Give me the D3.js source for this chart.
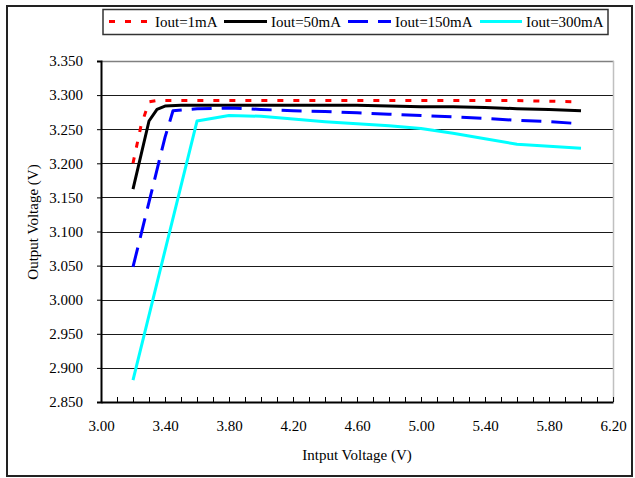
<!DOCTYPE html>
<html><head><meta charset="utf-8">
<script src="https://cdn.jsdelivr.net/npm/d3@7"></script>
<style>
html,body{margin:0;padding:0;background:#fff;}
text{font-family:"Liberation Serif","Times New Roman",serif;fill:#000;}
</style></head>
<body><svg id="c" width="635" height="478"></svg>
<script>
const xTicks = [3.00,3.40,3.80,4.20,4.60,5.00,5.40,5.80,6.20];
const yTicks = [2.850,2.900,2.950,3.000,3.050,3.100,3.150,3.200,3.250,3.300,3.350];
const seriesNames = ["Iout=1mA","Iout=50mA","Iout=150mA","Iout=300mA"];
const x1mA   = [3.2,3.25,3.3,3.35,3.4,3.5,3.6,3.8,4.0,4.2,4.4,4.6,4.8,5.0,5.2,5.4,5.6,5.8,6.0];
const v1mA   = [3.200,3.255,3.290,3.292,3.292,3.292,3.292,3.292,3.292,3.292,3.292,3.292,3.292,3.292,3.292,3.292,3.292,3.291,3.290];
const x50mA  = [3.2,3.3,3.35,3.4,3.5,3.6,3.8,4.0,4.2,4.4,4.6,4.8,5.0,5.2,5.4,5.6,5.8,6.0];
const v50mA  = [3.162,3.262,3.279,3.284,3.285,3.285,3.285,3.285,3.285,3.285,3.285,3.284,3.283,3.283,3.282,3.280,3.279,3.277];
const x150mA = [3.2,3.3,3.4,3.45,3.6,3.8,4.0,4.2,4.4,4.6,4.8,5.0,5.2,5.4,5.6,5.8,6.0];
const v150mA = [3.048,3.143,3.238,3.277,3.280,3.281,3.279,3.277,3.276,3.274,3.272,3.270,3.268,3.266,3.263,3.261,3.258];
const x300mA = [3.2,3.4,3.6,3.8,4.0,4.2,4.4,4.6,4.8,5.0,5.2,5.4,5.6,5.8,6.0];
const v300mA = [2.882,3.072,3.262,3.270,3.269,3.265,3.261,3.258,3.255,3.251,3.244,3.236,3.228,3.225,3.222];

const styles = [
  {color:"#ff0000", dash:"6,10"},
  {color:"#000000", dash:null},
  {color:"#0000ff", dash:"20,10"},
  {color:"#00ffff", dash:null}
];
const series = [[x1mA,v1mA],[x50mA,v50mA],[x150mA,v150mA],[x300mA,v300mA]].map((s,i)=>({
  name: seriesNames[i], pts: s[0].map((xv,j)=>[xv,s[1][j]]), style: styles[i]
}));

const svg = d3.select("#c");
const L=101, R=613, T=61, B=402;
const x = d3.scaleLinear().domain([3.0,6.2]).range([L,R]);
const y = d3.scaleLinear().domain([2.85,3.35]).range([B,T]);

// outer frame
svg.append("rect").attr("x",7).attr("y",6).attr("width",625).attr("height",470)
  .attr("fill","none").attr("stroke","#222").attr("stroke-width",2);

// gridlines
svg.append("g").selectAll("line").data(yTicks.slice(1)).join("line")
  .attr("x1",L).attr("x2",R).attr("y1",d=>Math.round(y(d))+0.5).attr("y2",d=>Math.round(y(d))+0.5)
  .attr("stroke","#1a1a1a").attr("stroke-width",1);

// plot border top/right
svg.append("line").attr("x1",L).attr("x2",R+1).attr("y1",T+0.5).attr("y2",T+0.5).attr("stroke","#808080").attr("stroke-width",1.5);
svg.append("line").attr("x1",R+0.5).attr("x2",R+0.5).attr("y1",T).attr("y2",B).attr("stroke","#c0c0c0").attr("stroke-width",1.5);

// axes
const yAxis = d3.axisLeft(y).tickValues(yTicks).tickFormat(d3.format(".3f")).tickSize(4).tickPadding(14);
const gy = svg.append("g").attr("transform",`translate(${L},0)`).call(yAxis);
const minorX = d3.range(0,33).map(i=>3.0+i*0.1);
const xAxis = d3.axisBottom(x).tickValues(xTicks).tickFormat(d3.format(".2f")).tickSize(0).tickPadding(18);
const gx = svg.append("g").attr("transform",`translate(0,${B})`).call(xAxis);
svg.append("g").selectAll("line").data(minorX).join("line")
  .attr("x1",d=>Math.round(x(d))+0.5).attr("x2",d=>Math.round(x(d))+0.5)
  .attr("y1",B).attr("y2",B-5).attr("stroke","#000").attr("stroke-width",1);
[gx,gy].forEach(g=>{
  g.select(".domain").attr("stroke","#000").attr("stroke-width",2);
  g.selectAll(".tick line").attr("stroke","#000");
  g.selectAll("text").attr("font-family","Liberation Serif, serif").attr("font-size",15).attr("fill","#000");
});

// axis titles
svg.append("text").attr("x",357).attr("y",460).attr("text-anchor","middle").attr("font-size",15).text("Intput Voltage (V)");
svg.append("text").attr("transform","translate(38,222) rotate(-90)").attr("text-anchor","middle").attr("font-size",15).text("Output Voltage (V)");

// lines
const line = d3.line().x(d=>x(d[0])).y(d=>y(d[1]));
series.forEach(s=>{
  svg.append("path").datum(s.pts).attr("d",line).attr("fill","none")
    .attr("stroke",s.style.color).attr("stroke-width",3)
    .attr("stroke-linejoin","round")
    .attr("stroke-dasharray",s.style.dash);
});

// legend
const lg = svg.append("g");
lg.append("rect").attr("x",103).attr("y",9.5).attr("width",505).attr("height",25)
  .attr("fill","#fff").attr("stroke","#333").attr("stroke-width",1.5);
const legPos = [{x0:109,x1:150,tx:155},{x0:224,x1:267,tx:271},{x0:348,x1:391,tx:395},{x0:480,x1:522,tx:526}];
series.forEach((s,i)=>{
  const p = legPos[i];
  lg.append("line").attr("x1",p.x0).attr("x2",p.x1).attr("y1",21.5).attr("y2",21.5)
    .attr("stroke",s.style.color).attr("stroke-width",3).attr("stroke-dasharray",s.style.dash);
  lg.append("text").attr("x",p.tx).attr("y",27).attr("font-size",15).text(s.name);
});
</script></body></html>
